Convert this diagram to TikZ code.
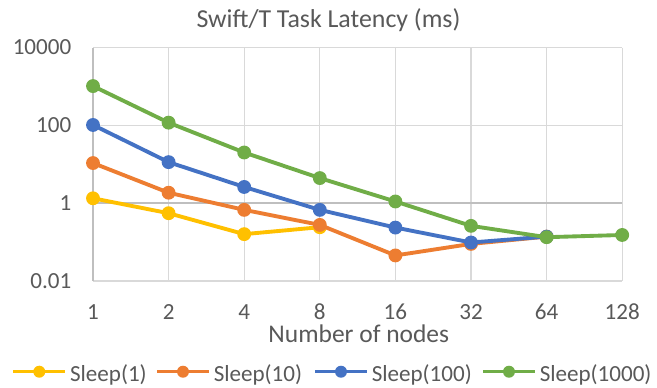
\documentclass[tikz,border=0pt]{standalone}
\usepackage{fontspec}
\setmainfont{Carlito}
\usetikzlibrary{calc}
\definecolor{txt}{HTML}{595959}
\definecolor{grd}{HTML}{D9D9D9}
\definecolor{axs}{HTML}{BFBFBF}
\definecolor{sA}{HTML}{FFC000}
\definecolor{sB}{HTML}{ED7D31}
\definecolor{sC}{HTML}{4472C4}
\definecolor{sD}{HTML}{70AD47}
\tikzset{gridline/.style={grd,line width=1pt},axisline/.style={axs,line width=1pt},
serie/.style={line width=2.9pt,line cap=round},lbl/.style={text=txt,inner sep=0pt,font=\fontsize{17.3}{20}\selectfont}}
\begin{document}
\begin{tikzpicture}[x=.75pt,y=-.75pt]
\useasboundingbox[fill=white] (0,0) rectangle (657,387);
\node[lbl,font=\fontsize{19.4}{22}\selectfont,anchor=base] (title) at (328.5,27.3) {Swift/T Task Latency (ms)};
% grid and axes
\foreach \i/\n in {0/1,1/2,2/4,3/8,4/16,5/32,6/64,7/128}{
\coordinate (top\n) at ({93+75.6*\i},47.7);\coordinate (bot\n) at ({93+75.6*\i},281.1);
\ifnum\i>0 \draw[gridline] (top\n)--(bot\n);\fi
\node[lbl,anchor=base] (x\n) at ({93+75.6*\i},319.3){\n};}
\foreach \v/\t in {4/10000,2/100,-2/0.01}{\draw[gridline] (93,{203.1-38.9*\v})--(622.2,{203.1-38.9*\v});}
\draw[axisline] (top1)--(bot1);\draw[axisline] (93,203.1)--(622.2,203.1);
\foreach \v/\t in {4/10000,2/100,0/1,-2/0.01}{\node[lbl,anchor=east] (y\v) at (71.5,{203.1-38.9*\v}){\t};}
\node[lbl,font=\fontsize{19.1}{22}\selectfont,anchor=base] (xtitle) at (358.8,342.3){Number of nodes};
% data series
\foreach \s/\c/\vals in {a/sA/{1.33,0.55,0.158,0.24},b/sB/{10.7,1.85,0.67,0.275,0.045,0.089,0.135},
c/sC/{102,11.3,2.6,0.67,0.235,0.097,0.135},d/sD/{1020,117,20,4.4,1.1,0.26,0.13,0.15}}{
\foreach \v [count=\i from 0,remember=\i as \j (initially 0)] in \vals{
\coordinate (\s\i) at ({93+75.6*\i},{203.1-38.9*ln(\v)/ln(10)});
\ifnum\i>0 \draw[serie,\c] (\s\j)--(\s\i);\fi}
\foreach \v [count=\i from 0] in \vals{\fill[\c] (\s\i) circle(5.2pt);}}
% legend
\foreach \s/\c/\x/\t in {a/sA/13.3/Sleep(1),b/sB/157/Sleep(10),c/sC/315/Sleep(100),d/sD/483/Sleep(1000)}{
\coordinate (l\s) at (\x,371.7);\coordinate (r\s) at (\x+52,371.7);
\draw[\c,line width=2pt] (l\s)--(r\s);\fill[\c] ($(l\s)!.5!(r\s)$) circle(4.5pt);
\node[lbl,anchor=base west] (leg\s) at (\x+56.5,381.8){\t};}
\end{tikzpicture}
\end{document}
